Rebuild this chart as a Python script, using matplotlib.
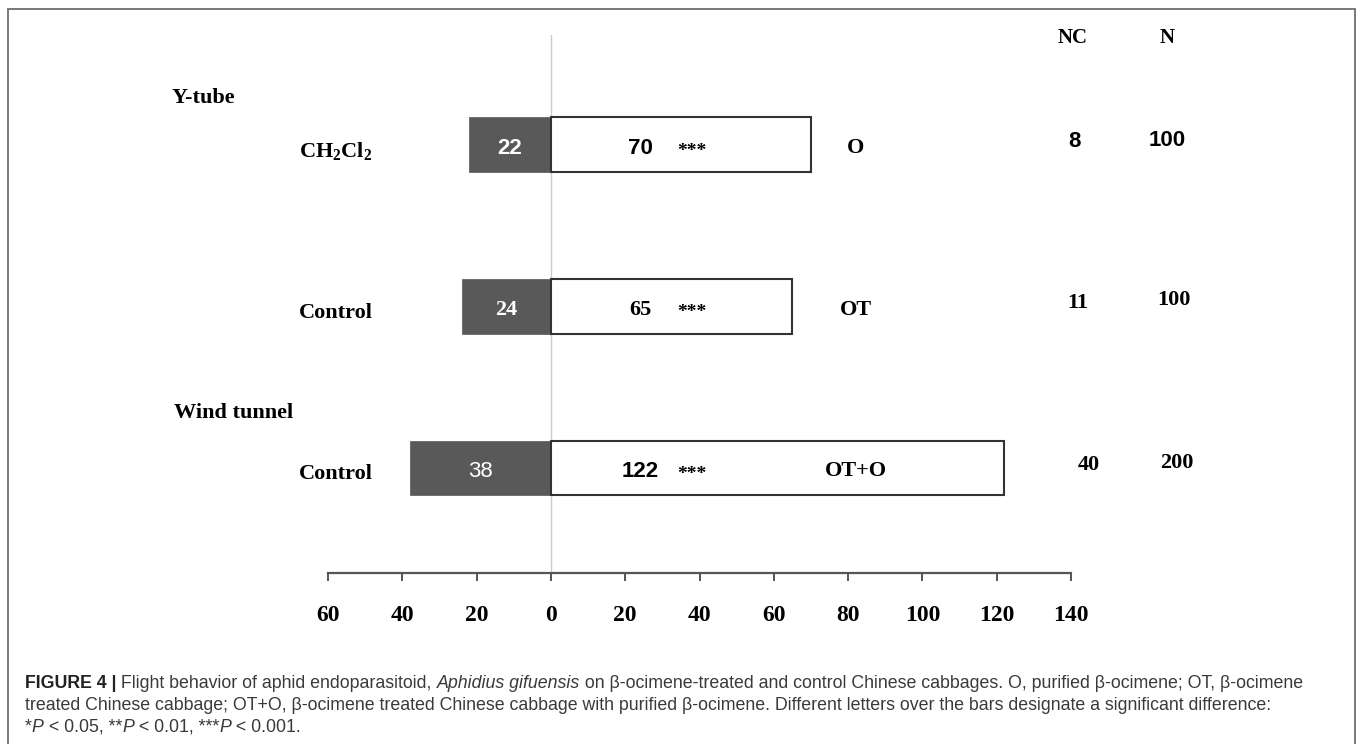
import matplotlib
matplotlib.use("Agg")
import matplotlib.pyplot as plt
import matplotlib.patches as patches

# ---------------------------------------------------------------
# Choice counts per bioassay row (top to bottom)
# ---------------------------------------------------------------
control_labels = ["CH$_2$Cl$_2$", "Control", "Control"]
treatment_labels = ["O", "OT", "OT+O"]
control_counts = [22, 24, 38]
treated_counts = [70, 65, 122]
no_choice = [8, 11, 40]
totals = [100, 100, 200]
significance = ["***", "***", "***"]
section_titles = ["Y-tube", "Wind tunnel"]

tick_values = [-60, -40, -20, 0, 20, 40, 60, 80, 100, 120, 140]
tick_labels = ["60", "40", "20", "0", "20", "40", "60", "80", "100", "120", "140"]

W, H = 1357, 744
SERIF = "Liberation Serif"
SANS = "Liberation Sans"
DARK = "#595959"

plt.rcParams["mathtext.fontset"] = "custom"
plt.rcParams["mathtext.rm"] = "Liberation Serif:bold"
plt.rcParams["mathtext.bf"] = "Liberation Serif:bold"
plt.rcParams["mathtext.it"] = "Liberation Serif:bold:italic"

fig = plt.figure(figsize=(W / 100, H / 100), dpi=100)
fig.patch.set_facecolor("white")

# axes spans the drawn x range (-60..140) and the plotting band
ax = fig.add_axes([328 / W, (H - 573) / H, (1071 - 328) / W, (573 - 35) / H])
ax.set_xlim(-60, 140)
ax.set_ylim(-0.65, 2.68)
ax.patch.set_alpha(0)

rows = [2, 1, 0]
bar_h = 0.34

ax.axvline(0, color="#cccccc", lw=1.0, zorder=0)

for y, c, t in zip(rows, control_counts, treated_counts):
    ax.barh(y, -c, height=bar_h, left=0, color=DARK, edgecolor=DARK, lw=0.5, zorder=2)
    ax.barh(y, t, height=bar_h, left=0, color="white", edgecolor="#333333", lw=1.5, zorder=2)

# numbers inside the bars
num_fonts = [SANS, SERIF, SANS]
num_weights = ["bold", "bold", "normal"]
for i, y in enumerate(rows):
    ax.text(-control_counts[i] / 2, y - 0.02, str(control_counts[i]), color="white",
            ha="center", va="center", fontsize=16, family=num_fonts[i],
            fontweight=num_weights[i], zorder=3)
    ax.text(24, y - 0.02, str(treated_counts[i]), color="black", ha="center", va="center",
            fontsize=16, family=SERIF if i == 1 else SANS, fontweight="bold", zorder=3)
    ax.text(38, y - 0.04, significance[i], color="black", ha="center", va="center",
            fontsize=14, family=SERIF, fontweight="bold", zorder=3)
    ax.text(82, y - 0.02, treatment_labels[i], color="black", ha="center", va="center",
            fontsize=16, family=SERIF, fontweight="bold", zorder=3, clip_on=False)
    ax.text(-48, y - 0.04, control_labels[i], color="black", ha="right", va="center",
            fontsize=16, family=SERIF, fontweight="bold", clip_on=False)

# NC / N columns
ax.text(140.5, 2.66, "NC", ha="center", va="center", fontsize=15, family=SERIF,
        fontweight="bold", clip_on=False)
ax.text(165.8, 2.66, "N", ha="center", va="center", fontsize=15, family=SERIF,
        fontweight="bold", clip_on=False)
count_fonts = [SANS, SERIF, SERIF]
nc_x = [141.0, 141.8, 144.7]
n_x = [166.0, 167.8, 168.5]
n_dy = [0.03, 0.04, 0.03]
for i, y in enumerate(rows):
    ax.text(nc_x[i], y + 0.02, str(no_choice[i]), ha="center", va="center", fontsize=16,
            family=count_fonts[i], fontweight="bold", clip_on=False)
    ax.text(n_x[i], y + n_dy[i], str(totals[i]), ha="center", va="center", fontsize=16,
            family=count_fonts[i], fontweight="bold", clip_on=False)

# bioassay section headers
ax.text(-102.2, 2.29, section_titles[0], ha="left", va="center", fontsize=16,
        family=SERIF, fontweight="bold", clip_on=False)
ax.text(-101.5, 0.34, section_titles[1], ha="left", va="center", fontsize=16,
        family=SERIF, fontweight="bold", clip_on=False)

# bottom axis only
for side in ["left", "top", "right"]:
    ax.spines[side].set_visible(False)
ax.spines["bottom"].set_color("#555555")
ax.spines["bottom"].set_linewidth(1.6)
ax.set_yticks([])
ax.set_xticks(tick_values)
ax.set_xticklabels(tick_labels, fontsize=17, family=SERIF, fontweight="bold")
ax.tick_params(axis="x", direction="out", length=6, width=1.4, color="#555555", pad=17)

# frame around the figure panel
fig.add_artist(patches.Rectangle((8 / W, -0.01), (1355 - 8) / W, (H - 9) / H + 0.01,
                                 transform=fig.transFigure, fill=False,
                                 edgecolor="#6e6e6e", lw=1.3))

# caption, drawn run by run so bold / italic pieces line up
renderer = fig.canvas.get_renderer()


def run_width(s, **kw):
    t1 = fig.text(0, 0, "|" + s + "|", **kw)
    t2 = fig.text(0, 0, "||", **kw)
    w = t1.get_window_extent(renderer).width - t2.get_window_extent(renderer).width
    t1.remove()
    t2.remove()
    return w


def draw_runs(x_px, y_px, runs, size=12.8):
    x = x_px
    for s, style in runs:
        kw = dict(fontsize=size, family=SANS, color="#3a3a3a")
        if style == "b":
            kw.update(fontweight="bold", color="#222222")
        elif style == "i":
            kw.update(style="italic")
        fig.text(x / W, 1 - y_px / H, s, ha="left", va="center", **kw)
        x += run_width(s, **kw)


caption = [
    [("FIGURE 4 |", "b"), (" Flight behavior of aphid endoparasitoid, ", ""),
     ("Aphidius gifuensis", "i"),
     (" on \u03b2-ocimene-treated and control Chinese cabbages. O, purified \u03b2-ocimene; OT, \u03b2-ocimene", "")],
    [("treated Chinese cabbage; OT+O, \u03b2-ocimene treated Chinese cabbage with purified \u03b2-ocimene. "
      "Different letters over the bars designate a significant difference:", "")],
    [("*", ""), ("P", "i"), (" < 0.05, **", ""), ("P", "i"), (" < 0.01, ***", ""), ("P", "i"),
     (" < 0.001.", "")],
]
for k, line in enumerate(caption):
    draw_runs(25, 683 + 22 * k, line)

fig.savefig("out.png", dpi=100)
